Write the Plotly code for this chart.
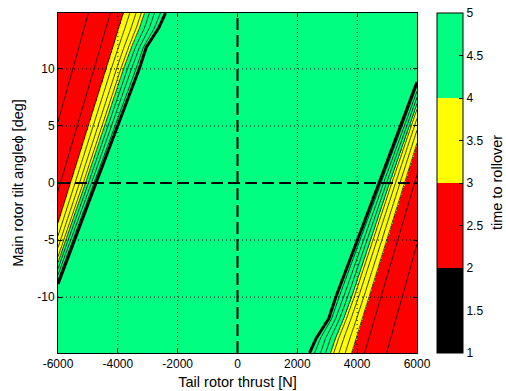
import numpy as np
import plotly.graph_objects as go

# Time-to-rollover levels (s) at which boundary positions are tabulated
levels = [2.0, 2.25, 2.5, 2.75, 3.0, 3.25, 3.5, 3.75, 4.0, 4.25, 4.5, 4.75, 5.0]

# Negative-thrust band: tail rotor thrust (N) reaching each level, at these tilt angles (deg)
phi_rows_left = [-14.9, 0.0, 10.0, 11.9, 13.6, 14.9]
thrust_left = [
    [-20000, -20000, -20000, -20000, -20000, -20000],
    [-9758, -8188, -7119, -6919, -6718, -6585],
    [-8155, -6568, -5502, -5299, -5121, -4981],
    [-7594, -5917, -4794, -4580, -4393, -4246],
    [-7353, -5582, -4393, -4166, -3969, -3812],
    [-7260, -5430, -4220, -3980, -3760, -3600],
    [-7172, -5281, -4044, -3793, -3554, -3391],
    [-7097, -5156, -3899, -3638, -3381, -3215],
    [-7052, -5081, -3812, -3545, -3277, -3110],
    [-7002, -4981, -3678, -3411, -3110, -2943],
    [-6952, -4881, -3545, -3277, -2943, -2776],
    [-6902, -4797, -3394, -3144, -2776, -2576],
    [-6852, -4704, -3244, -3010, -2576, -2342],
]

# Positive-thrust band
phi_rows_right = [-14.9, -13.6, -11.9, -10.0, 0.0, 14.9]
thrust_right = [
    [20000, 20000, 20000, 20000, 20000, 20000],
    [6585, 6718, 6919, 7119, 8188, 9758],
    [4981, 5121, 5299, 5502, 6568, 8155],
    [4246, 4393, 4580, 4794, 5917, 7594],
    [3812, 3969, 4166, 4393, 5582, 7353],
    [3600, 3760, 3980, 4220, 5430, 7260],
    [3391, 3554, 3793, 4044, 5281, 7172],
    [3215, 3381, 3638, 3899, 5156, 7097],
    [3110, 3277, 3545, 3812, 5081, 7052],
    [2943, 3110, 3411, 3678, 4981, 7002],
    [2776, 2943, 3277, 3545, 4881, 6952],
    [2576, 2776, 3144, 3394, 4797, 6902],
    [2342, 2576, 3010, 3244, 4704, 6852],
]

x_ticks = [-6000, -4000, -2000, 0, 2000, 4000, 6000]
y_ticks = [-10, -5, 0, 5, 10]
cbar_ticks = [1, 1.5, 2, 2.5, 3, 3.5, 4, 4.5, 5]
x_range = [-6000, 6000]
y_range = [-14.9, 14.9]

# Sampling grid
T = np.linspace(x_range[0], x_range[1], 601)
P = np.linspace(y_range[0], y_range[1], 341)
lev = np.array(levels)


def band_field(table, rows, rising):
    table = np.array(table, dtype=float)
    Z = np.empty((len(P), len(T)))
    for i, p in enumerate(P):
        pos = np.array([np.interp(p, rows, r) for r in table])
        if rising:
            Z[i] = np.interp(T, pos, lev)
        else:
            Z[i] = np.interp(-T, -pos, lev)
    return Z


Z = np.minimum(band_field(thrust_left, phi_rows_left, True),
               band_field(thrust_right, phi_rows_right, False))
Z = np.round(Z, 3)

GREEN = "rgb(0,255,128)"
cscale = [
    [0.0, "black"], [0.25, "black"],
    [0.25, "red"], [0.5, "red"],
    [0.5, "yellow"], [0.75, "yellow"],
    [0.75, GREEN], [1.0, GREEN],
]
FONT = "Liberation Sans, Arial, sans-serif"

fig = go.Figure()

# Filled bands (colour limits 1..5) with the colour bar
fig.add_trace(go.Heatmap(
    x=T, y=P, z=Z, zmin=1, zmax=5, colorscale=cscale, hoverinfo="skip",
    colorbar=dict(
        x=(437.3 - 58) / 359, xanchor="left", xpad=0, ypad=0,
        y=0.5, yanchor="middle", len=1, lenmode="fraction",
        thickness=26, outlinecolor="black", outlinewidth=1,
        tickvals=cbar_ticks, ticktext=[f"{v:g}" for v in cbar_ticks],
        ticks="inside", ticklen=4, tickcolor="black",
        tickfont=dict(family=FONT, size=12, color="black"),
    ),
))

# Thin level lines
fig.add_trace(go.Contour(
    x=T, y=P, z=Z, showscale=False, autocontour=False,
    contours=dict(start=2.25, end=4.75, size=0.25, coloring="none"),
    line=dict(color="black", width=0.8), hoverinfo="skip",
))

# Heavy boundary of the saturated region
fig.add_trace(go.Contour(
    x=T, y=P, z=Z, showscale=False, autocontour=False,
    contours=dict(start=4.93, end=4.93, size=1, coloring="none"),
    line=dict(color="black", width=3), hoverinfo="skip",
))

# Dotted grid over the fill
gx, gy = [], []
for xt in x_ticks[1:-1]:
    if xt == 0:
        continue
    gx += [xt, xt, None]
    gy += [y_range[0], y_range[1], None]
for yt in y_ticks:
    if yt == 0:
        continue
    gx += [x_range[0], x_range[1], None]
    gy += [yt, yt, None]
fig.add_trace(go.Scatter(x=gx, y=gy, mode="lines", hoverinfo="skip",
                         line=dict(color="black", width=1, dash="1px,3px")))

# Dashed zero lines
fig.add_trace(go.Scatter(
    x=[0, 0, None, x_range[0], x_range[1]],
    y=[y_range[0], y_range[1], None, 0, 0],
    mode="lines", hoverinfo="skip",
    line=dict(color="black", width=2, dash="12px,5px")))

axis_common = dict(
    showline=True, linecolor="black", linewidth=1, mirror="ticks",
    ticks="inside", ticklen=4, tickcolor="black", showgrid=False, zeroline=False,
    automargin=False,
    tickfont=dict(family=FONT, size=12, color="black"),
)
fig.update_xaxes(range=x_range, tickvals=x_ticks,
                 ticktext=[str(v) for v in x_ticks],
                 title=dict(text="Tail rotor thrust [N]", standoff=6,
                            font=dict(family=FONT, size=14.5, color="black")),
                 **axis_common)
fig.update_yaxes(range=y_range, tickvals=y_ticks,
                 ticktext=[str(v) for v in y_ticks],
                 title=dict(text="Main rotor tilt angleϕ [deg]", standoff=10,
                            font=dict(family=FONT, size=14.5, color="black")),
                 **axis_common)
fig.update_layout(
    width=506, height=391, showlegend=False,
    margin=dict(l=58, r=89, t=13, b=38, autoexpand=False),
    paper_bgcolor="white", plot_bgcolor="white",
    annotations=[dict(
        text="time to rollover", textangle=-90, showarrow=False,
        xref="paper", yref="paper", x=(497 - 58) / 359, y=0.5,
        xanchor="center", yanchor="middle",
        font=dict(family=FONT, size=14.5, color="black"),
    )],
)

fig.write_html("out.html")
